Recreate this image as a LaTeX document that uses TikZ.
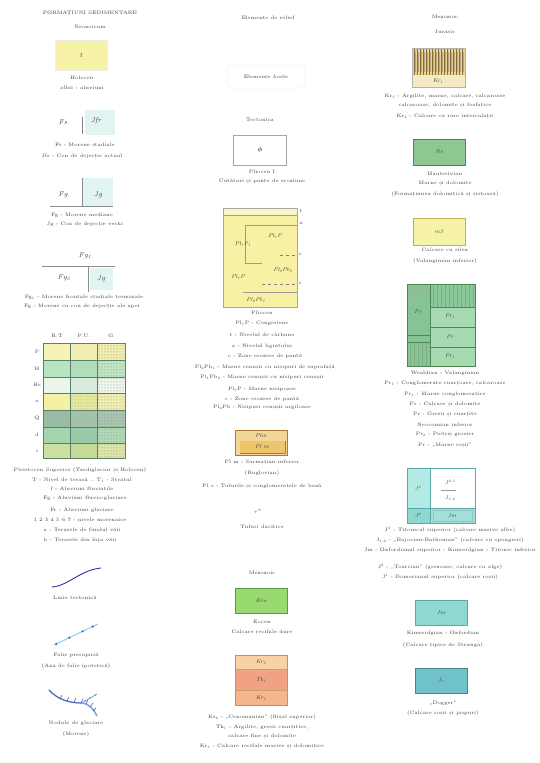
\documentclass[tikz,border=0pt]{standalone}
\usepackage{fontspec}
\usetikzlibrary{patterns,calc}
\definecolor{txt}{HTML}{3E3E3E}
\definecolor{ylw}{HTML}{F6F2A8}
\definecolor{pcy}{HTML}{E2F4F2}
\definecolor{grline}{HTML}{5E7E6A}
\definecolor{myel}{HTML}{F8F0A2}
\definecolor{orbox}{HTML}{F0C46C}
\definecolor{orbord}{HTML}{B07A30}
\definecolor{grbox}{HTML}{98DA70}
\definecolor{grbord}{HTML}{5A9A40}
\definecolor{or1}{HTML}{F8D2A4}
\definecolor{or2}{HTML}{F0A282}
\definecolor{or3}{HTML}{F5B68A}
\definecolor{strbg}{HTML}{E8D48C}
\definecolor{strln}{HTML}{8A6A3A}
\definecolor{gr2}{HTML}{8CC890}
\definecolor{gr2b}{HTML}{4A8A50}
\definecolor{g3a}{HTML}{86C496}
\definecolor{g3b}{HTML}{A6DAB0}
\definecolor{cy1}{HTML}{B4EAE4}
\definecolor{cy2}{HTML}{8ED8D0}
\definecolor{cy3}{HTML}{70C2CA}
\definecolor{cyb}{HTML}{5AA8A8}
\tikzset{
  lbl/.style={font=\fontsize{4.9}{5.5}\selectfont, text=txt, inner sep=0.3pt},
  sym/.style={font=\fontsize{5.5}{6}\selectfont\itshape, text=black!75, inner sep=0.3pt},
  bigsym/.style={font=\fontsize{7}{8}\selectfont\itshape, text=black!75, inner sep=0.3pt},
  bx/.style={draw, line width=0.5pt, inner sep=0pt}
}
\begin{document}
\begin{tikzpicture}[x=1pt,y=-1pt]
\useasboundingbox[fill=white] (0,0) rectangle (540,763);

% ================= LEFT COLUMN =================
\node[lbl] (l1) at (90,13) {FORMAȚIUNI SEDIMENTARE};
\node[lbl] (l2) at (90,27) {Neozoicum};
\node[bx, draw=ylw!70!black!20, fill=ylw, minimum width=52pt, minimum height=30pt, bigsym] (lb1) at (81,55) {t};
\node[lbl] (l3) at (82,78) {Holocen};
\node[lbl] (l4) at (82,88) {albii - aluviuni};

\fill[pcy] (85,110) rectangle (115,135);
\node[bigsym] (fs) at (63,122) {Fs};
\draw[black!50, line width=0.4pt] (82,117) -- (82,134);
\node[bigsym] (jfr) at (96,121) {Jfr};
\node[lbl] (l5) at (85,145) {Fs - Morene stadiale};
\node[lbl] (l6) at (82,157) {Jfr - Con de dejecție actual};

\fill[pcy] (83,178) rectangle (113,206);
\draw[black!45, line width=0.4pt] (50,206) -- (113,206);
\draw[black!45, line width=0.4pt] (82,178) -- (82,206);
\node[bigsym] (fg) at (63,195) {Fg};
\node[bigsym] (jg) at (98,195) {Jg};
\node[lbl] (l7) at (82,215) {Fg - Morene mediane};
\node[lbl] (l8) at (85,225) {Jg - Con de dejecție vechi};

\node[bigsym] (fg1) at (85,256) {Fg\textsubscript{1}};
\draw[black!45, line width=0.4pt] (42,266) -- (115,266);
\fill[pcy] (90,268) rectangle (113,290);
\draw[black!45, line width=0.4pt] (88,266) -- (88,292);
\node[bigsym] (fg2) at (64,278) {Fg\textsubscript{2}};
\node[bigsym] (jg2) at (101,279) {Jg};
\node[lbl] (l9) at (84,297) {Fg\textsubscript{1} - Morene frontale stadiale terminale};
\node[lbl] (l10) at (82,307) {Fg - Morene cu con de dejecție ale apei};

% grid
\node[lbl] (c1) at (57,336) {R.T};
\node[lbl] (c2) at (84,336) {P.U.};
\node[lbl] (c3) at (111,336) {G};
\foreach \r/\ya/\yb/\ca/\cb/\cc/\lab in {
  1/343/360/F7F3B6/F3EFAE/F2EEB0/P,
  2/360/377/B6E4BE/B0DEB8/C0E6C2/H,
  3/377/393/EAF5EC/D8EADC/EEF6EE/Hs,
  4/393/410/F4F0A6/E6EA9C/F2F0B0/a,
  5/410/427/98BCA4/A2C2AA/A8C6B0/Q,
  6/427/443/A4D6AE/96CAA8/AEDAB6/d,
  7/443/458/CCE0A0/C4DA96/DEE6A8/i}{
  \definecolor{ca}{HTML}{\ca}\definecolor{cb}{HTML}{\cb}\definecolor{cc}{HTML}{\cc}
  \fill[ca] (43,\ya) rectangle (70,\yb);
  \fill[cb] (70,\ya) rectangle (97,\yb);
  \fill[cc] (97,\ya) rectangle (125,\yb);
  \fill[pattern=dots, pattern color=black!50] (97,\ya) rectangle (125,\yb);
  \node[lbl] (rl\r) at (37,{(\ya+\yb)/2}) {\lab};
}
\fill[pattern=dots, pattern color=black!40] (70,393) rectangle (97,410);
\draw[grline, line width=0.5pt] (43,343) rectangle (125,458);
\foreach \yy in {360,377,393,410,427,443} \draw[grline, line width=0.4pt] (43,\yy) -- (125,\yy);
\draw[grline, line width=0.4pt] (70,343) -- (70,458);
\draw[grline, line width=0.4pt] (97,343) -- (97,458);

\node[lbl] (l11) at (80,470) {Pleistocen Superior (Tardiglaciar și Holocen)};
\node[lbl] (l12) at (82,480) {T - Nivel de terasă \dots\ T\textsubscript{1} - Stratul};
\node[lbl] (l13) at (82,489) {f - Aluviuni fluviatile};
\node[lbl] (l14) at (85,498) {Fg - Aluviuni fluvio-glaciare};
\node[lbl] (l15) at (82,510) {Fr - Aluviuni glaciare};
\node[lbl] (l16) at (80,520) {1 2 3 4 5 6 7 - nivele morenaice};
\node[lbl] (l17) at (82,530) {a - Terasele de fundul văii};
\node[lbl] (l18) at (80,541) {b - Terasele din fața văii};

% tectonic line
\coordinate (t1a) at (52,587);
\coordinate (t1b) at (101,568);
\draw[blue!55!black!80, line width=0.9pt] (t1a) .. controls (68,586) and (80,570) .. (t1b);
\node[lbl] (l19) at (75,598) {Linie tectonică};

% fault line with dots
\coordinate (t2a) at (54,645);
\coordinate (t2b) at (98,624);
\draw[cyan!45, line width=1.2pt] (t2a) -- (t2b);
\foreach \p in {0.05,0.35,0.65,0.88} \fill[blue!50!black!70] ($(t2a)!\p!(t2b)$) circle (1.1pt);
\node[lbl] (l20) at (76,655) {Falie presupusă};
\node[lbl] (l21) at (76,666) {(Axa de falie ipotetică)};

% moraine line
\coordinate (t3a) at (49,690);
\coordinate (t3b) at (97,716);
\draw[cyan!50!blue!50, line width=1.6pt] (t3a) .. controls (58,700) and (70,703) .. (82,703) .. controls (90,704) and (94,710) .. (t3b);
\draw[blue!50!black!70, line width=0.5pt] (t3a) .. controls (58,700) and (70,703) .. (82,703);
\foreach \xa/\ya/\xb/\yb in {60/699/62/695, 67/701/69/697, 74/702/76/698, 81/703/83/699, 86/704/88/700, 90/707/93/703, 93/711/96/708}
  \draw[blue!50!black!70, line width=0.5pt] (\xa,\ya) -- (\xb,\yb);
\draw[cyan!50!blue!50, line width=0.9pt] (80,704) -- (97,694);
\foreach \xx/\yy in {85/701,90/698,95/695} \fill[blue!50!black!70] (\xx,\yy) circle (0.6pt);
\node[lbl] (l22) at (76,723) {Nodule de glaciare};
\node[lbl] (l23) at (76,734) {(Morene)};
\node[lbl, text=black!25] (l24) at (76,748) {. . . . . .};

% ================= MIDDLE COLUMN =================
\node[lbl] (m1) at (268,18) {Elemente de relief};
\draw[black!5, rounded corners=6pt, line width=0.5pt] (227,64) rectangle (305,88);
\node[lbl] (m2) at (266,77) {Elemente fosile};
\node[lbl] (m3) at (260,120) {Tectonica};
\node[bx, draw=black!35, fill=white, minimum width=53pt, minimum height=30pt, font=\fontsize{7}{8}\selectfont] (mb1) at (260,150) {$\phi$};
\node[lbl] (m4) at (262,172) {Pliocen I};
\node[lbl] (m5) at (262,182) {Cutături și pante de eroziune};

% big yellow box
\fill[myel] (223,208) rectangle (297,307);
\fill[myel!60!white] (223,208) rectangle (297,215);
\draw[black!35, line width=0.4pt] (223,208) rectangle (297,307);
\draw[olive!70, line width=0.5pt] (223,215) -- (297,215);
\draw[black!40, line width=0.4pt] (245,225) -- (297,225);
\draw[black!40, line width=0.4pt] (245,225) -- (245,263) -- (262,263);
\draw[black!50, dashed, line width=0.4pt] (280,255) -- (297,255);
\draw[black!50, dashed, line width=0.4pt] (262,284) -- (297,284);
\draw[black!40, line width=0.4pt] (243,292) -- (297,292);
\node[sym] (p1) at (275,236) {Pl\textsubscript{1}P};
\node[sym] (p2) at (243,244) {Pl\textsubscript{1}P\textsubscript{1}};
\node[sym] (p3) at (283,270) {Pl\textsubscript{2}Pb\textsubscript{2}};
\node[sym] (p4) at (238,277) {Pl\textsubscript{1}P};
\node[sym] (p5) at (256,300) {Pl\textsubscript{2}Pb\textsubscript{1}};
\node[lbl] (pm1) at (301,211) {t};
\node[lbl] (pm2) at (301,223) {a};
\node[lbl] (pm3) at (300,254) {c};
\node[lbl] (pm4) at (300,283) {c};

\node[lbl] (m6) at (262,313) {Pliocen};
\node[lbl] (m7) at (262,323) {Pl\textsubscript{1}P - Congeriene};
\node[lbl] (m8) at (262,335) {t - Nivelul de cărbune};
\node[lbl] (m9) at (262,346) {a - Nivelul lignitului};
\node[lbl] (m10) at (265,356) {c - Zone erozive de pantă};
\node[lbl] (m11) at (265,368) {Pl\textsubscript{2}Pb\textsubscript{1} - Marne cenușii cu nisipuri de suprafață};
\node[lbl] (m12) at (262,378) {Pl\textsubscript{1}Pb\textsubscript{2} - Marne cenușii cu nisipuri cenușii};
\node[lbl] (m13) at (262,389) {Pl\textsubscript{1}P - Marne nisipoase};
\node[lbl] (m14) at (262,399) {c - Zone erozive de pantă};
\node[lbl] (m15) at (262,408) {Pl\textsubscript{2}Pb - Nisipuri cenușii argiloase};

% orange box
\node[bx, draw=orbord, fill=orbox!70!white, minimum width=52pt, minimum height=25pt] (ob) at (261,442.5) {};
\draw[orbord, line width=0.4pt] (240,441) rectangle (285,453);
\fill[orbox] (240.3,441.3) rectangle (284.7,452.7);
\node[sym] (o1) at (261,435.5) {Plm};
\node[sym] (o2) at (262,447) {Pl m};
\node[lbl] (m16) at (262,463) {Pl m - Sarmațian inferior};
\node[lbl] (m17) at (262,473) {(Buglovian)};
\node[lbl] (m18) at (262,487) {Pl s - Tufurile și conglomeratele de bază};

\node[font=\fontsize{5.5}{6}\selectfont, text=black!70] (tau) at (258,511) {$\tau^{\ast}$};
\node[lbl] (m19) at (262,527) {Tufuri dacitice};
\node[lbl] (m20) at (262,573) {Mezozoic};

\node[bx, draw=grbord, fill=grbox, minimum width=52pt, minimum height=25pt, sym] (gb) at (261,600.5) {Kru};
\node[lbl] (m21) at (262,622) {Eocen};
\node[lbl] (m22) at (262,632) {Calcare recifale dure};

% orange stacked
\fill[or1] (235,655) rectangle (287,669);
\fill[or2] (235,669) rectangle (287,690);
\fill[or3] (235,690) rectangle (287,705);
\draw[orbord!80, line width=0.5pt] (235,655) rectangle (287,705);
\draw[orbord!70, line width=0.4pt] (235,669) -- (287,669);
\draw[orbord!70, line width=0.4pt] (235,690) -- (287,690);
\node[sym] (k1) at (261,662) {Kr\textsubscript{2}};
\node[sym] (k2) at (261,680) {Tk\textsubscript{1}};
\node[sym] (k3) at (261,698) {Kr\textsubscript{1}};
\node[lbl] (m23) at (262,717) {Kr\textsubscript{2} - „Cenomanian” (flișul superior)};
\node[lbl] (m24) at (262,727) {Tk\textsubscript{1} - Argilite, gresii cuarțitice,};
\node[lbl] (m25) at (262,737) {calcare fine și dolomite};
\node[lbl] (m26) at (262,747) {Kr\textsubscript{1} - Calcare recifale masive și dolomitice};

% ================= RIGHT COLUMN =================
\node[lbl] (r1) at (445,17) {Mezozoic};
\node[lbl] (r2) at (445,32) {Jurasic};

\fill[strbg] (412,48) rectangle (465,87);
\fill[strbg!50!white] (412,75) rectangle (465,87);
\foreach \xx in {414,417,...,464} \draw[strln, line width=0.55pt] (\xx,48) -- (\xx,75);
\foreach \xx in {415.5,418.5,...,464} \draw[strln!60, line width=0.3pt] (\xx,52) -- (\xx,72);
\node[sym, fill=strbg!50!white] (kr1) at (438,81) {Kr\textsubscript{1}};
\draw[black!30, line width=0.3pt] (412,48) rectangle (465,87);
\node[lbl] (r3) at (445,96) {Kr\textsubscript{1} - Argilite, marne, calcare, calcaroase};
\node[lbl] (r4) at (445,106) {calcaroase, dolomite și fosfatice};
\node[lbl] (r5) at (445,117) {Kr\textsubscript{2} - Calcare cu rare intercalații};

\node[bx, draw=gr2b, fill=gr2, minimum width=52pt, minimum height=26pt, sym] (ns) at (439,152) {Ns};
\node[lbl] (r6) at (445,174) {Hauterivian};
\node[lbl] (r7) at (445,184) {Marne și dolomite};
\node[lbl] (r8) at (445,194) {(Formațiunea dolomitică și șistoasă)};

\node[bx, draw=olive!60, fill=ylw, minimum width=52pt, minimum height=27pt, sym] (m3b) at (439,231.5) {m3};
\node[lbl] (r9) at (445,250) {Calcare cu silex};
\node[lbl] (r10) at (445,261) {(Valanginian inferior)};

% big green grid
\fill[g3a] (407,284) rectangle (430,366);
\fill[g3b] (430,284) rectangle (475,366);
\fill[g3a!80!g3b] (430,284) rectangle (475,307);
\foreach \xx in {433,437,...,474} \draw[gr2b!70, line width=0.35pt] (\xx,284) -- (\xx,307);
\foreach \xx in {410,414,...,429} \draw[gr2b!60, line width=0.35pt] (\xx,284) -- (\xx,300);
\foreach \xx in {410,414,...,429} \draw[gr2b!70, line width=0.35pt] (\xx,342) -- (\xx,366);
\draw[gr2b, line width=0.5pt] (407,284) rectangle (475,366);
\draw[gr2b, line width=0.45pt] (430,284) -- (430,366);
\draw[gr2b, line width=0.4pt] (430,307) -- (475,307);
\draw[gr2b, line width=0.4pt] (430,327) -- (475,327);
\draw[gr2b, line width=0.4pt] (430,347) -- (475,347);
\draw[gr2b, line width=0.4pt] (407,335) -- (430,335);
\draw[gr2b, line width=0.4pt] (407,342) -- (430,342);
\node[sym] (g1) at (418,312) {Pr};
\node[sym] (g2) at (450,316) {Pr\textsubscript{1}};
\node[sym] (g3) at (450,337) {Pr};
\node[sym] (g4) at (450,356) {Pr\textsubscript{1}};
\node[lbl] (r11) at (445,373) {Wealdian - Valanginian};
\node[lbl] (r12) at (445,384) {Pr\textsubscript{1} - Conglomerate cuarțoase, calcaroase};
\node[lbl] (r13) at (445,394) {Pr\textsubscript{1} - Marne conglomeratice};
\node[lbl] (r14) at (445,405) {Pr - Calcare și dolomite};
\node[lbl] (r15) at (445,415) {Pr - Gresii și cuarțite};
\node[lbl] (r16) at (445,425) {Neocomian inferior};
\node[lbl] (r17) at (445,435) {Pr\textsubscript{2} - Pietriș grosier};
\node[lbl] (r18) at (445,446) {Pr - „Marne roșii”};

% cyan box
\fill[cy1] (407,468) rectangle (430,508);
\fill[cy2] (407,508) rectangle (430,523);
\fill[white] (430,468) rectangle (475,508);
\fill[cy2!80!white] (430,508) rectangle (475,523);
\draw[cyb, line width=0.5pt] (407,468) rectangle (475,523);
\draw[cyb, line width=0.4pt] (430,468) -- (430,523);
\draw[cyb, line width=0.4pt] (407,508) -- (475,508);
\draw[cyb!70, line width=0.4pt] (433,510) rectangle (472,521);
\draw[black!40, line width=0.3pt] (441,490) -- (456,490);
\node[sym] (j1) at (418,488) {J\textsuperscript{3}};
\node[sym] (j2) at (450,482) {J\textsuperscript{2-3}};
\node[sym] (j3) at (450,498) {J\textsubscript{1-2}};
\node[sym] (j4) at (418,515) {J\textsuperscript{2}};
\node[sym] (j5) at (452,516) {Jm};
\node[lbl] (r19) at (450,530) {J\textsuperscript{3} - Titonicul superior (calcare masive albe)};
\node[lbl] (r20) at (450,540) {J\textsubscript{1-2} - „Bajocian-Bathonian” (calcare cu spongieri)};
\node[lbl] (r21) at (450,550) {Jm - Oxfordianul superior - Kimeridgian - Titonic inferior};
\node[lbl] (r22) at (440,567) {J\textsuperscript{2} - „Toarcian” (grezoase, calcare cu alge)};
\node[lbl] (r23) at (440,577) {J\textsuperscript{1} - Domerianul superior (calcare roșii)};

\node[bx, draw=cyb, fill=cy2, minimum width=52pt, minimum height=25pt, sym] (jm) at (441,612.5) {Jm};
\node[lbl] (r24) at (443,633) {Kimeridgian - Oxfordian};
\node[lbl] (r25) at (443,645) {(Calcare tipice de Strunga)};

\node[bx, draw=cyb!80!black, fill=cy3, minimum width=52pt, minimum height=25pt, sym] (jr) at (441,680.5) {J\textsubscript{r}};
\node[lbl] (r26) at (443,703) {„Dogger”};
\node[lbl] (r27) at (443,713) {(Calcare roșii și jaspuri)};
\end{tikzpicture}
\end{document}
